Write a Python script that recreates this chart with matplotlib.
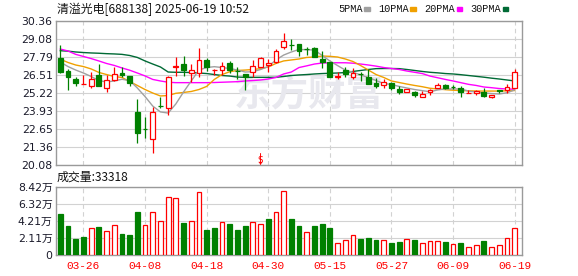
import numpy as np
import matplotlib.pyplot as plt

# trading days shown (60 bars)
dates = ['03-21', '03-24', '03-25', '03-26', '03-27', '03-28', '03-31',
         '04-01', '04-02', '04-03', '04-07', '04-08', '04-09', '04-10',
         '04-11', '04-14', '04-15', '04-16', '04-17', '04-18', '04-21',
         '04-22', '04-23', '04-24', '04-25', '04-28', '04-29', '04-30',
         '05-06', '05-07', '05-08', '05-09', '05-12', '05-13', '05-14',
         '05-15', '05-16', '05-19', '05-20', '05-21', '05-22', '05-23',
         '05-26', '05-27', '05-28', '05-29', '05-30', '06-03', '06-04',
         '06-05', '06-06', '06-09', '06-10', '06-11', '06-12', '06-13',
         '06-16', '06-17', '06-18', '06-19']
date_ticks = ['03-26', '04-08', '04-18', '04-30', '05-15', '05-27', '06-09', '06-19']

opens = [27.74, 26.83, 26.24, 25.86, 25.72, 26.53, 25.62, 26.19, 26.69, 26.46,
         23.89, 22.70, 21.94, 24.33, 24.15, 27.13, 27.33, 26.67, 26.65, 27.58,
         26.87, 26.88, 27.36, 26.84, 26.60, 26.72, 27.08, 27.22, 27.48, 28.50,
         28.68, 28.74, 28.37, 28.43, 27.67, 27.43, 26.40, 26.86, 26.36, 26.59,
         26.36, 25.98, 25.79, 25.98, 25.55, 25.29, 25.29, 24.93, 25.29, 25.60,
         25.83, 25.66, 25.60, 25.23, 25.24, 25.34, 24.93, 25.42, 25.46, 25.62]
highs = [28.67, 26.98, 26.41, 26.53, 26.74, 27.33, 26.53, 27.10, 27.10, 26.46,
         24.81, 23.53, 24.22, 24.98, 26.48, 27.79, 27.88, 27.29, 28.45, 27.72,
         26.98, 27.43, 27.50, 27.08, 26.60, 27.60, 27.79, 27.65, 28.36, 29.50,
         29.08, 28.74, 28.50, 28.50, 28.24, 27.43, 26.72, 27.08, 27.00, 26.72,
         26.93, 26.29, 26.22, 26.05, 25.72, 25.53, 25.41, 25.36, 25.53, 25.96,
         25.91, 25.83, 25.76, 25.48, 25.48, 25.58, 25.10, 25.48, 25.86, 26.93]
lows = [26.65, 25.46, 25.76, 25.86, 25.58, 25.76, 25.34, 26.10, 26.36, 25.72,
        21.69, 22.03, 20.98, 24.15, 23.65, 26.48, 26.48, 26.01, 26.36, 26.83,
        26.55, 26.55, 26.65, 26.24, 25.48, 26.41, 27.08, 26.76, 27.36, 28.36,
        28.29, 27.88, 27.93, 27.79, 27.00, 26.36, 26.22, 26.36, 26.22, 26.08,
        25.86, 25.60, 25.62, 25.48, 25.15, 25.29, 24.93, 24.93, 25.12, 25.60,
        25.51, 25.51, 24.98, 25.23, 25.12, 24.93, 24.86, 25.24, 25.24, 25.62]
closes = [26.74, 26.36, 25.98, 25.88, 26.24, 25.76, 26.17, 26.58, 26.55, 25.98,
          22.41, 22.65, 23.89, 24.29, 26.36, 27.16, 26.90, 26.88, 27.58, 27.12,
          26.89, 27.15, 26.90, 26.82, 26.41, 27.15, 27.72, 27.38, 28.22, 28.93,
          28.66, 28.22, 28.35, 27.79, 27.43, 26.41, 26.42, 26.58, 26.65, 26.57,
          25.86, 25.72, 26.03, 25.62, 25.29, 25.53, 25.10, 25.17, 25.46, 25.79,
          25.60, 25.64, 25.34, 25.25, 25.36, 25.05, 25.10, 25.40, 25.69, 26.72]

ma5 = [27.45, 27.13, 26.88, 26.67, 26.42, 26.13, 26.03, 26.10, 26.22, 26.13,
       25.60, 24.99, 24.31, 23.89, 23.81, 24.46, 25.31, 26.10, 26.88, 27.06,
       27.12, 27.06, 26.99, 26.88, 26.74, 26.76, 26.92, 27.13, 27.60, 27.95,
       28.17, 28.35, 28.33, 28.31, 27.92, 27.53, 27.20, 26.88, 26.72, 26.53,
       26.35, 26.13, 25.92, 25.85, 25.71, 25.60, 25.49, 25.41, 25.33, 25.46,
       25.53, 25.53, 25.53, 25.38, 25.31, 25.25, 25.20, 25.17, 25.26, 25.46]
ma10 = [27.65, 27.42, 27.24, 27.13, 26.96, 26.71, 26.56, 26.42, 26.35, 26.06,
        25.78, 25.49, 25.24, 25.03, 25.06, 25.22, 25.28, 25.35, 25.49, 25.71,
        26.21, 26.56, 26.76, 26.85, 26.88, 26.92, 26.98, 27.10, 27.35, 27.53,
        27.60, 27.67, 27.78, 27.81, 27.88, 27.86, 27.81, 27.67, 27.49, 27.20,
        26.88, 26.56, 26.35, 26.10, 25.99, 25.88, 25.78, 25.69, 25.58, 25.53,
        25.48, 25.44, 25.42, 25.40, 25.38, 25.38, 25.38, 25.38, 25.40, 25.42]
ma20 = [28.38, 28.24, 28.00, 27.85, 27.70, 27.53, 27.35, 27.21, 27.03, 26.87,
        26.67, 26.46, 26.21, 26.10, 26.01, 25.98, 25.98, 25.98, 25.98, 25.98,
        25.99, 26.01, 26.03, 26.05, 26.10, 26.13, 26.17, 26.24, 26.35, 26.60,
        26.74, 27.06, 27.18, 27.31, 27.38, 27.40, 27.40, 27.40, 27.37, 27.31,
        27.24, 27.16, 27.06, 26.99, 26.92, 26.81, 26.72, 26.63, 26.45, 26.33,
        26.21, 26.10, 25.98, 25.86, 25.78, 25.67, 25.62, 25.56, 25.53, 25.51]
ma30 = [28.26, 28.23, 28.17, 28.13, 28.10, 28.08, 28.05, 28.03, 28.00, 27.92,
        27.78, 27.53, 27.31, 27.10, 26.74, 26.72, 26.72, 26.70, 26.67, 26.63,
        26.56, 26.49, 26.45, 26.38, 26.36, 26.36, 26.36, 26.36, 26.36, 26.42,
        26.49, 26.53, 26.56, 26.60, 26.63, 26.65, 26.67, 26.70, 26.78, 26.85,
        26.92, 26.98, 26.99, 26.99, 26.98, 26.92, 26.85, 26.78, 26.72, 26.68,
        26.63, 26.60, 26.55, 26.49, 26.43, 26.37, 26.30, 26.24, 26.17, 26.10]

# volume in 万 shares, and whether the bar is drawn as an up day (red)
volume = [5.07, 3.60, 2.00, 2.25, 3.31, 3.47, 2.98, 3.68, 2.62, 2.49,
          5.31, 3.68, 5.27, 4.21, 7.11, 6.99, 3.96, 4.21, 7.76, 3.10,
          3.35, 4.05, 3.84, 3.10, 3.60, 4.05, 3.80, 4.45, 5.31, 7.85,
          4.45, 3.60, 2.86, 3.60, 3.84, 3.35, 1.51, 1.88, 2.45, 2.00,
          2.12, 1.88, 1.88, 1.51, 1.63, 2.00, 1.88, 1.51, 1.76, 1.76,
          1.63, 1.39, 1.51, 1.02, 1.23, 1.76, 1.02, 1.23, 2.12, 3.35]
vol_up = [0, 0, 0, 0, 1, 0, 1, 1, 0, 0, 0, 1, 1, 1, 1, 1, 0, 1, 1, 0,
          0, 1, 0, 0, 0, 1, 1, 0, 1, 1, 0, 0, 1, 0, 0, 0, 1, 1, 1, 0,
          0, 0, 1, 0, 0, 1, 0, 1, 1, 1, 0, 1, 0, 1, 1, 0, 1, 1, 1, 1]

price_ticks = [20.08, 21.36, 22.65, 23.93, 25.22, 26.51, 27.79, 29.08, 30.36]
vol_ticks = [0, 2.11, 4.21, 6.32, 8.42]
vol_labels = ['0', '2.11万', '4.21万', '6.32万', '8.42万']
sell_signals = ['04-29']

title = '清溢光电[688138] 2025-06-19 10:52'
vol_title = '成交量:33318'
ma_names = ['5PMA', '10PMA', '20PMA', '30PMA']
ma_colors = ['#a0a0a0', '#f0a000', '#ff00ff', '#006a35']

RED = '#ff0000'
GREEN = '#008000'
CJK = ['Noto Sans CJK SC', 'DejaVu Sans']
NUM = ['DejaVu Sans', 'Noto Sans CJK SC']
MONO = 'Liberation Mono'

W, H = 578, 276
fig = plt.figure(figsize=(W / 100, H / 100), dpi=100)


def box(l, t, r, b):
    return [l / W, 1 - b / H, (r - l) / W, (b - t) / H]


ax = fig.add_axes(box(56, 21.3, 522, 165.3))
axv = fig.add_axes(box(56, 186.7, 522, 255.3))

x = np.arange(len(dates))
o = np.array(opens)
c = np.array(closes)
up = c >= o
cols = np.where(up, RED, GREEN)
faces = np.where(up, 'white', GREEN)
tick_pos = [dates.index(d) for d in date_ticks]

for a in (ax, axv):
    a.set_xlim(-0.56, 59.95)
    a.set_xticks(tick_pos)
    a.set_axisbelow(True)
    a.yaxis.grid(True, color='#d2d2d2', lw=0.8)
    a.xaxis.grid(True, color='#d2d2d2', lw=0.8, ls=(0, (4, 3)))
    for s in a.spines.values():
        s.set_color('#9a9a9a')
        s.set_linewidth(1.0)
    a.tick_params(length=0, labelsize=7.8, labelcolor='#1a1a2a', pad=2.4)

# price panel
ax.set_ylim(price_ticks[0], price_ticks[-1])
ax.set_yticks(price_ticks)
ax.set_yticklabels([f'{v:.2f}' for v in price_ticks])
ax.set_xticklabels([])

ax.text(0.543, 0.49, '东方财富', transform=ax.transAxes, ha='center', va='center',
        fontsize=27, fontweight='bold', color='#e8e8ee', family=CJK, zorder=1)

for vals, col in zip([ma30, ma20, ma10, ma5], ma_colors[::-1]):
    ax.plot(x, vals, color=col, lw=1.0, zorder=2)

ax.vlines(x, lows, highs, colors=cols, lw=0.9, zorder=3)
body = np.maximum(np.abs(c - o), 0.02)
ax.bar(x, body, bottom=np.minimum(o, c), width=0.62, color=faces,
       edgecolor=cols, linewidth=0.9, zorder=4)

for d in sell_signals:
    i = dates.index(d)
    ax.annotate('S', (i, price_ticks[0]), xytext=(0, 0), textcoords='offset points',
                ha='center', va='bottom', color=RED, fontsize=6.2)
    ax.annotate('', (i, price_ticks[0]), xytext=(0, 8.5), textcoords='offset points',
                arrowprops=dict(arrowstyle='-|>', color=RED, lw=0.7,
                                mutation_scale=3.5, shrinkA=0, shrinkB=0),
                annotation_clip=False)

# volume panel
vup = np.array(vol_up, dtype=bool)
axv.set_ylim(0, vol_ticks[-1])
axv.set_yticks(vol_ticks)
axv.set_yticklabels(vol_labels, family=NUM)
axv.set_xticklabels(date_ticks, color=RED, family=MONO, fontsize=8)
axv.tick_params(axis='x', pad=4)
axv.bar(x, volume, width=0.62, color=np.where(vup, 'white', GREEN),
        edgecolor=np.where(vup, RED, GREEN), linewidth=0.9, zorder=3)

# header texts
fig.text(57 / W, 1 - 9 / H, title, ha='left', va='center', fontsize=8.6,
         family=CJK, color='#111111')
fig.text(57 / W, 1 - 177 / H, vol_title, ha='left', va='center', fontsize=8.6,
         family=CJK, color='#111111')

lx = 338
for name, col in zip(ma_names, ma_colors):
    fig.text(lx / W, 1 - 9 / H, name, ha='left', va='center', fontsize=7.4,
             family=MONO, color='#111111')
    lx += len(name) * 6 + 2.5
    fig.patches.append(plt.Rectangle((lx / W, 1 - 11 / H), 5.5 / W, 4 / H,
                                     transform=fig.transFigure, color=col))
    lx += 5.5 + 8

fig.savefig('out.png', dpi=100)
